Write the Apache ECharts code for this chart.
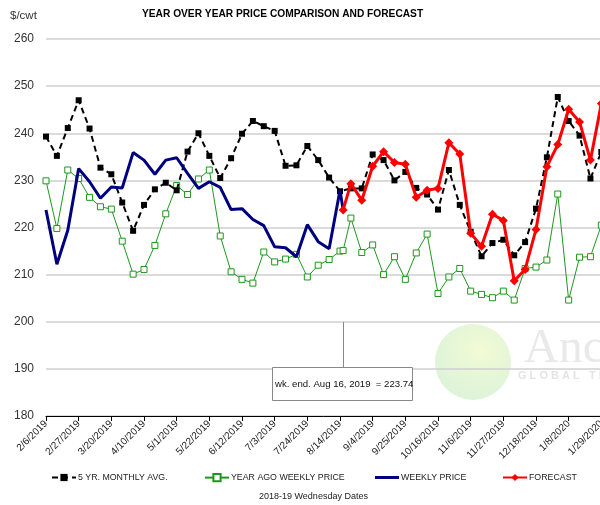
<!DOCTYPE html>
<html>
<head>
<meta charset="utf-8">
<script src="https://cdn.jsdelivr.net/npm/echarts@6/dist/echarts.min.js"></script>
<style>
  html, body { margin: 0; padding: 0; background: #fff; }
  #chart { width: 600px; height: 505px; }
</style>
</head>
<body>
<div id="chart"></div>
<script>
// week 0 = 2/6/2019, one label every 3 weeks
const tickLabels = ['2/6/2019', '2/27/2019', '3/20/2019', '4/10/2019', '5/1/2019', '5/22/2019',
  '6/12/2019', '7/3/2019', '7/24/2019', '8/14/2019', '9/4/2019', '9/25/2019', '10/16/2019',
  '11/6/2019', '11/27/2019', '12/18/2019', '1/8/2020', '1/29/2020']

// report week ends Friday Aug 16 (two days after the 8/14 Wednesday)
const reportWeek = 27 + 2 / 7
const reportPrice = 223.74

const fiveYrAvg = [239.3, 235.2, 241.1, 247.0, 241.0, 232.7, 231.3, 225.3, 219.3, 224.8,
  228.1, 229.5, 227.9, 236.1, 240.0, 235.2, 230.5, 234.7, 239.9, 242.6,
  241.5, 240.5, 233.1, 233.2, 237.3, 234.3, 230.6, 227.7, 228.3, 228.3,
  235.5, 234.3, 230.0, 231.8, 228.4, 227.0, 223.8, 232.2, 224.8, 219.1,
  213.9, 216.7, 217.4, 214.1, 216.9, 224.0, 234.9, 247.7, 242.6, 239.5,
  230.4, 236.0]

const yearAgo = [229.9, 219.8, 232.2, 230.4, 226.4, 224.4, 223.9, 217.1, 210.1, 211.1,
  216.2, 222.9, 228.9, 227.0, 230.3, 232.2, 218.2, 210.6, 209.0, 208.2,
  214.8, 212.7, 213.3, 214.3, 209.5, 212.0, 213.2, 215.0, 222.0, 214.7,
  216.3, 210.0, 213.8, 209.0, 214.6, 218.6, 206.0, 209.5, 211.3, 206.5,
  205.8, 205.1, 206.5, 204.6, 211.3, 211.6, 213.1, 227.1, 204.6, 213.7,
  213.8, 220.5]
const yearAgoReport = 215.1

const weeklyPrice = [223.7, 212.2, 219.4, 232.5, 229.7, 226.2, 228.6, 228.4, 235.9, 234.3,
  231.3, 234.3, 234.8, 231.5, 228.3, 229.7, 228.5, 223.8, 224.0, 221.7,
  220.4, 215.9, 215.7, 213.8, 220.6, 217.0, 215.5, 227.9]

// forecast weeks 28..51, starts from the report price
const forecastStart = 28
const forecast = [229.3, 225.8, 233.0, 236.1, 233.8, 233.4, 226.4, 227.9, 228.3, 238.0,
  235.6, 218.8, 216.0, 222.8, 221.5, 208.7, 211.1, 219.6, 232.9, 237.6,
  245.1, 242.4, 234.3, 246.3]

const FONT = '"Liberation Sans", Arial, sans-serif'

const fiveYrData = fiveYrAvg.map((v, i) => [i, v])
const yearAgoData = yearAgo.map((v, i) => [i, v])
yearAgoData.splice(28, 0, [reportWeek, yearAgoReport])
const weeklyData = weeklyPrice.map((v, i) => [i, v])
weeklyData.push([reportWeek, reportPrice])
const forecastData = [[reportWeek, reportPrice]].concat(forecast.map((v, i) => [forecastStart + i, v]))

function legendAt(left, item, extra) {
  return Object.assign({
    left: left,
    top: 473,
    itemWidth: 24,
    itemHeight: 9,
    padding: 0,
    textStyle: { fontSize: 8.8, color: '#222', fontFamily: FONT, padding: [0, 0, 0, -3] },
    data: [item]
  }, extra || {})
}

const chart = echarts.init(document.getElementById('chart'))

chart.setOption({
  animation: false,
  backgroundColor: '#fff',
  textStyle: { fontFamily: FONT },
  grid: { left: 46, top: 39, width: 588, height: 377, outerBoundsMode: 'none', containLabel: false },
  legend: [
    legendAt(51, '5 YR. MONTHLY AVG.'),
    legendAt(204, 'YEAR AGO WEEKLY PRICE'),
    legendAt(375, { name: 'WEEKLY PRICE', icon: 'rect' }, { itemHeight: 3 }),
    legendAt(502, 'FORECAST')
  ],
  xAxis: {
    type: 'value',
    min: 0,
    max: 54,
    interval: 3,
    axisLine: { lineStyle: { color: '#000', width: 1 } },
    axisTick: { show: true, length: 5, lineStyle: { color: '#000' } },
    splitLine: { show: false },
    axisLabel: {
      rotate: 45,
      fontSize: 10,
      color: '#222',
      margin: 6,
      showMaxLabel: false,
      formatter: (v) => tickLabels[Math.round(v / 3)] || ''
    }
  },
  yAxis: {
    type: 'value',
    min: 180,
    max: 260,
    interval: 10,
    axisLine: { show: false },
    axisTick: { show: false },
    axisLabel: { fontSize: 12, color: '#333', margin: 12 },
    splitLine: { lineStyle: { color: '#cfcfcf', width: 1.5 } }
  },
  series: [
    {
      name: '5 YR. MONTHLY AVG.',
      type: 'line',
      data: fiveYrData,
      symbol: 'rect',
      symbolSize: 6,
      itemStyle: { color: '#000' },
      lineStyle: { color: '#000', width: 2, type: [6, 4] },
      z: 3
    },
    {
      name: 'YEAR AGO WEEKLY PRICE',
      type: 'line',
      data: yearAgoData,
      symbol: 'rect',
      symbolSize: 6,
      itemStyle: { color: '#fff', borderColor: '#1e961e', borderWidth: 1 },
      lineStyle: { color: '#1e961e', width: 1 },
      z: 2
    },
    {
      name: 'WEEKLY PRICE',
      type: 'line',
      data: weeklyData,
      symbol: 'none',
      itemStyle: { color: '#00007f' },
      lineStyle: { color: '#00007f', width: 3 },
      z: 4
    },
    {
      name: 'FORECAST',
      type: 'line',
      data: forecastData,
      symbol: 'diamond',
      symbolSize: 9,
      itemStyle: { color: '#ff0000' },
      lineStyle: { color: '#ff0000', width: 3 },
      z: 5
    }
  ]
})

// annotation, watermark and titles
const lineX = Math.round(chart.convertToPixel({ gridIndex: 0 }, [reportWeek, 200])[0]) + 0.5

chart.setOption({
  graphic: [
    {
      type: 'circle',
      shape: { cx: 473, cy: 362, r: 38 },
      style: {
        fill: new echarts.graphic.RadialGradient(0.6, 0.35, 0.8, [
          { offset: 0, color: 'rgba(240, 250, 205, 0.85)' },
          { offset: 1, color: 'rgba(205, 238, 205, 0.75)' }
        ])
      },
      silent: true,
      z: -10
    },
    {
      type: 'text',
      left: 524,
      top: 325,
      style: { text: 'Anc', font: '48px "Liberation Serif", serif', fill: '#e9e9e9' },
      silent: true,
      z: -10
    },
    {
      type: 'text',
      left: 518,
      top: 370,
      style: { text: 'G L O B A L   T R', font: 'bold 11px ' + FONT, fill: '#e4e4e4' },
      silent: true,
      z: -10
    },
    {
      type: 'line',
      shape: { x1: lineX, y1: 322, x2: lineX, y2: 368 },
      style: { stroke: '#888', lineWidth: 1 },
      z: 100
    },
    {
      type: 'rect',
      shape: { x: 272.5, y: 367.5, width: 140, height: 33 },
      style: { fill: '#fff', stroke: '#888', lineWidth: 1 },
      z: 100
    },
    {
      type: 'text',
      left: 275,
      top: 379,
      style: { text: 'wk. end. Aug 16, 2019  = 223.74', font: '9.6px ' + FONT, fill: '#111' },
      z: 101
    },
    {
      type: 'text',
      left: 10,
      top: 10,
      style: { text: '$/cwt', font: '11.5px ' + FONT, fill: '#333' },
      z: 100
    },
    {
      type: 'text',
      left: 142,
      top: 9,
      style: { text: 'YEAR OVER YEAR PRICE COMPARISON AND FORECAST', font: 'bold 10.2px ' + FONT, fill: '#000' },
      z: 100
    },
    {
      type: 'text',
      left: 259,
      top: 492,
      style: { text: '2018-19 Wednesday Dates', font: '9px ' + FONT, fill: '#222' },
      z: 100
    }
  ]
})
</script>
</body>
</html>
